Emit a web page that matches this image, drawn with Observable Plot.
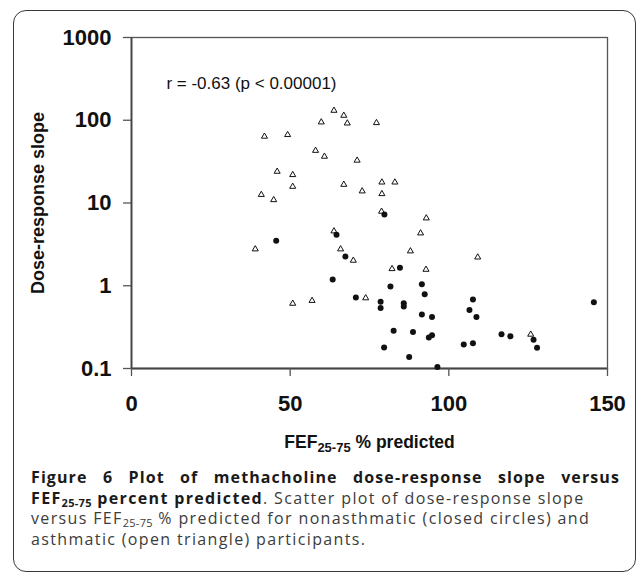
<!DOCTYPE html>
<html><head><meta charset="utf-8">
<script src="https://cdn.jsdelivr.net/npm/d3@7"></script>
<script src="https://cdn.jsdelivr.net/npm/@observablehq/plot@0.6"></script>
<style>
html,body{margin:0;padding:0;background:#fff;}
#wrap{position:relative;width:638px;height:573px;overflow:hidden;background:#fff;}
#chart{position:absolute;left:0;top:0;}
#border{position:absolute;left:13px;top:10px;width:623px;height:562px;box-sizing:border-box;border:1.6px solid #3a3a3a;border-radius:13px;pointer-events:none;}
#caption{position:absolute;left:31px;top:467px;width:589px;font-family:"Open Sans",sans-serif;font-size:16px;line-height:20.7px;color:#3c3c3c;letter-spacing:1.35px;}
#caption .l{white-space:nowrap;}
#caption .j{text-align:justify;text-align-last:justify;letter-spacing:1.1px;}
#caption b{color:#1a1a1a;font-weight:700;}
#caption sub{font-size:11px;vertical-align:baseline;position:relative;top:3px;line-height:0;letter-spacing:0.3px;}
</style></head><body>
<div id="wrap">
  <div id="chart"></div>
  <div id="caption">
    <div class="j"><b>Figure 6 Plot of methacholine dose-response slope versus</b></div>
    <div class="l"><b>FEF<sub>25-75</sub> percent predicted</b>. Scatter plot of dose-response slope</div>
    <div class="l">versus FEF<sub>25-75</sub> % predicted for nonasthmatic (closed circles) and</div>
    <div class="l">asthmatic (open triangle) participants.</div>
  </div>
  <div id="border"></div>
</div>
<script>
// Asthmatic participants (open triangles)
const fefAsthmatic = [41.9, 49.2, 45.9, 50.8, 50.8, 40.9, 44.8, 63.8, 59.8, 66.9, 68.0, 77.2, 58.0, 60.8, 71.1, 66.9, 72.7, 78.9, 83.0, 78.9, 78.8, 92.9, 63.8, 91.1, 65.9, 69.9, 87.9, 109.1, 82.1, 92.8, 56.9, 73.8, 125.8, 39.0, 50.8];
const slopeAsthmatic = [63.7, 66.7, 24, 21.9, 15.8, 12.6, 10.9, 131, 94.8, 114, 92, 93, 43, 36.5, 32.7, 16.7, 13.9, 17.8, 17.8, 12.9, 7.9, 6.56, 4.57, 4.32, 2.77, 2.02, 2.62, 2.21, 1.60, 1.57, 0.66, 0.71, 0.258, 2.77, 0.61];
// Nonasthmatic participants (closed circles)
const fefNonasthmatic = [79.7, 64.6, 67.4, 84.6, 63.4, 81.6, 91.5, 92.4, 70.7, 78.5, 78.5, 85.8, 85.8, 107.6, 106.5, 108.7, 91.5, 94.7, 82.6, 88.7, 93.7, 94.7, 116.6, 119.4, 126.7, 127.8, 104.7, 107.6, 79.6, 87.5, 96.4, 45.6, 145.7];
const slopeNonasthmatic = [7.26, 4.12, 2.25, 1.65, 1.19, 0.98, 1.04, 0.79, 0.72, 0.64, 0.54, 0.615, 0.56, 0.68, 0.51, 0.42, 0.45, 0.42, 0.285, 0.277, 0.237, 0.253, 0.26, 0.245, 0.222, 0.178, 0.195, 0.202, 0.18, 0.138, 0.104, 3.49, 0.63];

const xTicks = [0, 50, 100, 150];
const xTickLabels = ["0", "50", "100", "150"];
const yTicks = [0.1, 1, 10, 100, 1000];
const yTickLabels = ["0.1", "1", "10", "100", "1000"];
const xTitleParts = ["FEF", "25-75", " % predicted"];
const yTitle = "Dose-response slope";
const annotationText = "r = -0.63 (p < 0.00001)";
const annotationX = 11;
const annotationY = 280;

const asthmatic = fefAsthmatic.map((x, i) => ({x, y: slopeAsthmatic[i]}));
const nonasthmatic = fefNonasthmatic.map((x, i) => ({x, y: slopeNonasthmatic[i]}));
const xTitleFull = xTitleParts.join("");

const plot = Plot.plot({
  width: 638,
  height: 470,
  marginLeft: 131,
  marginRight: 31,
  marginTop: 37,
  marginBottom: 102,
  style: {background: "transparent", fontFamily: "'Liberation Sans', Arial, sans-serif", color: "#111", overflow: "visible"},
  x: {domain: [0, 150]},
  y: {type: "log", domain: [0.1, 1000]},
  marks: [
    Plot.frame({stroke: "#555", strokeWidth: 1.3}),
    Plot.ruleX([0], {stroke: "#444", strokeWidth: 1.8}),
    Plot.ruleY([0.1], {stroke: "#444", strokeWidth: 1.8}),
    Plot.axisX({ticks: xTicks, tickSize: 8, tickPadding: 19, fontSize: 22, fontWeight: "bold", stroke: "#555", strokeWidth: 1.3, fill: "#111", label: null,
      tickFormat: d => xTickLabels[xTicks.indexOf(d)]}),
    Plot.axisY({ticks: yTicks, tickSize: 8, tickPadding: 12, fontSize: 22, fontWeight: "bold", stroke: "#555", strokeWidth: 1.3, fill: "#111", label: null,
      tickFormat: d => yTickLabels[yTicks.indexOf(d)]}),
    Plot.text([yTitle], {frameAnchor: "left", textAnchor: "middle", rotate: -90, dx: -88, lineAnchor: "bottom", fontSize: 18, fontWeight: "bold", fill: "#111", text: d => d}),
    Plot.text([xTitleFull], {frameAnchor: "bottom", textAnchor: "middle", dy: 79, lineAnchor: "bottom", fontSize: 17.5, fontWeight: "bold", fill: "#111", text: d => d}),
    Plot.text([{x: annotationX, y: annotationY, t: annotationText}], {x: "x", y: "y", text: "t", textAnchor: "start", fontSize: 17, fill: "#111"}),
    Plot.dot(asthmatic, {x: "x", y: "y", symbol: "triangle", r: 2.25, fill: "white", stroke: "#111", strokeWidth: 1}),
    Plot.dot(nonasthmatic, {x: "x", y: "y", r: 3, fill: "#111"})
  ]
});

document.getElementById("chart").appendChild(plot);

// subscript in x-axis title
d3.select(plot).selectAll("text").each(function() {
  if (this.textContent === xTitleFull) {
    const t = d3.select(this);
    t.text(null);
    t.append("tspan").text(xTitleParts[0]);
    t.append("tspan").attr("font-size", 13).attr("dy", 4).text(xTitleParts[1]);
    t.append("tspan").attr("dy", -4).text(xTitleParts[2]);
  }
});
</script>
</body></html>
